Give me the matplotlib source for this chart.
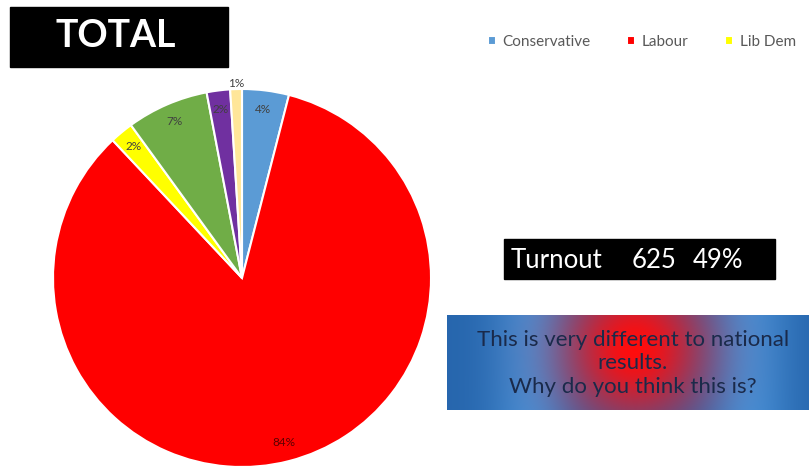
import numpy as np
import matplotlib
matplotlib.use("Agg")
from matplotlib import pyplot as plt
from matplotlib.patches import Rectangle

plt.rcParams["font.family"] = ["Lato", "DejaVu Sans"]

parties = ["Conservative", "Labour", "Lib Dem", "Green", "UKIP", "Other"]
shares = [4, 84, 2, 7, 2, 1]
colours = ["#5B9BD5", "#FF0000", "#FFFF00", "#70AD47", "#7030A0", "#FFE699"]
turnout_votes = 625
turnout_pct = 49

W, H = 810, 467
fig = plt.figure(figsize=(W / 100, H / 100), dpi=100)

# pie, centre (242, 278) px, radius ~189 px
ax = fig.add_axes([53 / W, 0, 378 / W, 378 / H])
wedges, _, autotexts = ax.pie(
    shares, colors=colours, startangle=90, counterclock=False,
    autopct="%1.0f%%", pctdistance=0.9,
    wedgeprops=dict(edgecolor="white", linewidth=1.5),
    textprops=dict(fontsize=8.5, color="#404040"))
autotexts[1].set_color("#5a0000")
autotexts[-1].set_position((autotexts[-1].get_position()[0], 1.03))
ax.set_xlim(-1, 1)
ax.set_ylim(-1, 1)
ax.set_aspect("auto")

fig.legend(wedges[:3], parties[:3], loc="center left",
           bbox_to_anchor=(474 / W, 1 - 42 / H), ncol=3, frameon=False,
           handlelength=0.55, handleheight=0.55, handletextpad=0.4,
           columnspacing=2.4, fontsize=11, labelcolor="#595959")

# title box
fig.patches.append(Rectangle((10 / W, 1 - 67 / H), 218 / W, 60 / H,
                             transform=fig.transFigure, color="black"))
fig.text(116 / W, 1 - 36 / H, "TOTAL", color="white", fontsize=27,
         fontweight="bold", ha="center", va="center")

# turnout box
fig.patches.append(Rectangle((504 / W, 1 - 279 / H), 271 / W, 40 / H,
                             transform=fig.transFigure, color="black"))
tk = dict(color="white", fontsize=18.5, va="center")
fig.text(511 / W, 1 - 260 / H, "Turnout", **tk)
fig.text(632 / W, 1 - 260 / H, str(turnout_votes), **tk)
fig.text(693 / W, 1 - 260 / H, f"{turnout_pct}%", **tk)

# gradient box
gx = fig.add_axes([447 / W, 1 - 410 / H, 361 / W, 95 / H])
xs = np.linspace(0, 1, 361)
ys = np.linspace(0, 1, 95)
X, Y = np.meshgrid(xs, ys)
blue_dark = np.array([0.15, 0.40, 0.68])
blue_light = np.array([0.26, 0.56, 0.84])
red = np.array([1.0, 0.05, 0.05])
band = np.exp(-((X - 0.24) / 0.12) ** 2) + np.exp(-((X - 0.83) / 0.12) ** 2)
band = np.clip(band, 0, 1)[..., None]
img = blue_dark * (1 - band) + blue_light * band
rw = np.exp(-((X - 0.52) / 0.2) ** 2 - ((Y - 0.65) / 0.8) ** 2)[..., None]
img = img * (1 - rw) + red * rw
gx.imshow(img, aspect="auto", origin="lower", extent=[0, 1, 0, 1])
gx.set_axis_off()
gx.text(0.515, 0.49, "This is very different to national\nresults.\nWhy do you think this is?",
        ha="center", va="center", fontsize=16, color="#1a2a4a",
        linespacing=1.2, transform=gx.transAxes)

plt.savefig("out.png", dpi=100)
